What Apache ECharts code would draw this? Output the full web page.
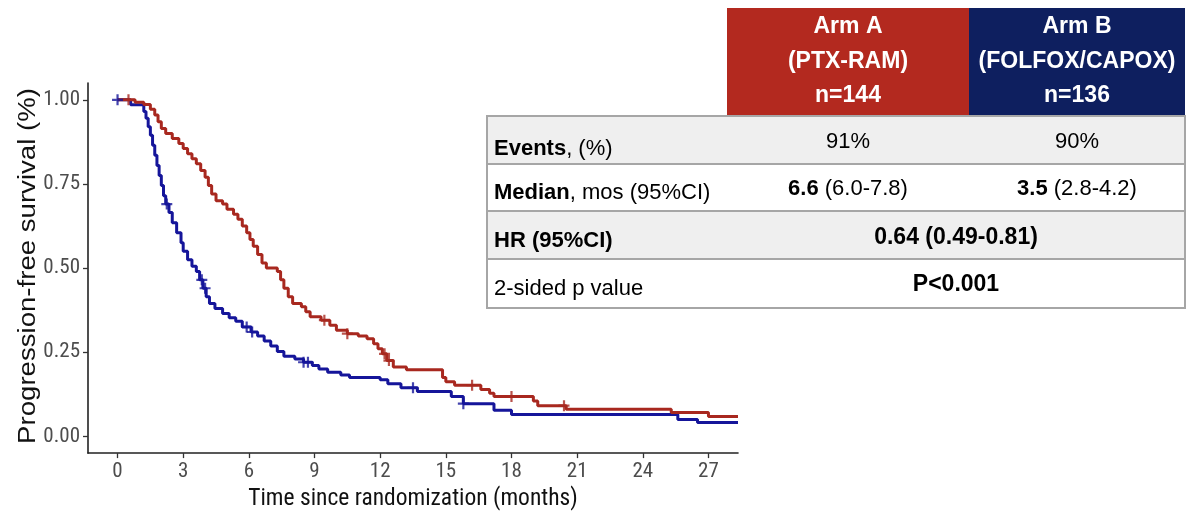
<!DOCTYPE html>
<html>
<head>
<meta charset="utf-8">
<script src="https://cdn.jsdelivr.net/npm/echarts@6/dist/echarts.min.js"></script>
<style>html,body{margin:0;padding:0;background:#fff;}#c{width:1188px;height:516px;}</style>
</head>
<body>
<div id="c"></div>
<script>
// ---------- DATA ----------
const xTicks = [0, 3, 6, 9, 12, 15, 18, 21, 24, 27];
const yTicks = [0, 0.25, 0.5, 0.75, 1.0];
const yTickLabels = ['0.00', '0.25', '0.50', '0.75', '1.00'];

// Arm A (PTX-RAM) Kaplan-Meier steps: [months, survival]
const armA = [
  [0,1.0],[0.8,0.993],[1.2,0.986],[1.5,0.972],[1.7,0.955],[1.85,0.935],[2.0,0.915],[2.2,0.9],
  [2.5,0.885],[2.8,0.87],[3.0,0.855],[3.2,0.84],[3.4,0.825],[3.6,0.81],[3.8,0.79],[4.0,0.77],
  [4.15,0.745],[4.3,0.72],[4.5,0.7],[4.8,0.69],[5.0,0.675],[5.3,0.66],[5.5,0.645],[5.7,0.625],
  [5.9,0.605],[6.05,0.585],[6.2,0.565],[6.4,0.54],[6.6,0.515],[6.8,0.5],[7.3,0.49],[7.45,0.465],
  [7.6,0.44],[7.8,0.415],[8.0,0.395],[8.4,0.385],[8.6,0.37],[8.8,0.355],[9.3,0.345],[9.7,0.33],
  [10.0,0.315],[10.5,0.305],[11.0,0.298],[11.4,0.29],[11.7,0.275],[11.9,0.26],[12.1,0.245],
  [12.3,0.225],[12.6,0.206],[13.2,0.198],[14.85,0.175],[15.0,0.162],[15.4,0.152],[16.6,0.139],
  [17.0,0.128],[17.2,0.118],[19.0,0.105],[19.2,0.091],[20.5,0.08],[25.3,0.071],[27.0,0.059],[28.35,0.059]
];
// Arm B (FOLFOX/CAPOX)
const armB = [
  [0,1.0],[0.6,0.985],[1.2,0.965],[1.3,0.945],[1.4,0.92],[1.5,0.895],[1.6,0.865],[1.7,0.835],
  [1.8,0.805],[1.9,0.775],[2.0,0.745],[2.1,0.715],[2.2,0.69],[2.35,0.665],[2.5,0.635],[2.7,0.605],
  [2.9,0.575],[3.0,0.55],[3.2,0.525],[3.4,0.505],[3.6,0.49],[3.75,0.465],[3.9,0.44],[4.05,0.415],
  [4.2,0.395],[4.45,0.38],[4.8,0.365],[5.1,0.352],[5.4,0.342],[5.7,0.325],[6.1,0.31],[6.4,0.298],
  [6.7,0.283],[7.0,0.268],[7.3,0.252],[7.6,0.238],[8.1,0.23],[8.5,0.22],[8.9,0.21],[9.2,0.2],
  [9.6,0.19],[10.2,0.182],[10.6,0.175],[12.0,0.168],[12.35,0.156],[12.95,0.144],[13.7,0.133],
  [15.25,0.118],[15.8,0.097],[17.2,0.077],[18.0,0.065],[25.6,0.05],[26.5,0.041],[28.35,0.041]
];
// censoring marks
const censorA = [[0.5,1.0],[9.45,0.345],[10.5,0.305],[12.2,0.245],[12.4,0.225],[16.2,0.152],[18.0,0.118],[20.4,0.091]];
const censorB = [[0,1.0],[2.25,0.69],[3.85,0.465],[4.0,0.44],[5.9,0.325],[6.15,0.31],[8.5,0.22],[8.7,0.22],[13.5,0.144],[15.8,0.097]];

// table text
const headerA = ['Arm A', '(PTX-RAM)', 'n=144'];
const headerB = ['Arm B', '(FOLFOX/CAPOX)', 'n=136'];
const rowLabels = ['{b|Events}, (%)', '{b|Median}, mos (95%CI)', '{b|HR (95%CI)}', '2-sided p value'];
const colA = ['91%', '{b|6.6} (6.0-7.8)'];
const colB = ['90%', '{b|3.5} (2.8-4.2)'];
const spanned = ['{b|0.64 (0.49-0.81)}', '{b|P<0.001}'];

const xTitle = 'Time since randomization (months)';
const yTitle = 'Progression-free survival (%)';

// ---------- STYLE ----------
const FONT = "'Liberation Sans', Arial, sans-serif";
const FONT_N = "'Liberation Sans Narrow', 'Arial Narrow', 'Roboto Condensed', 'Liberation Sans', Arial, sans-serif";
const RED = '#a8281f';
const BLUE = '#15159a';
const PLUS = 'path://M4,0H6V4H10V6H6V10H4V6H0V4H4Z';

const chart = echarts.init(document.getElementById('c'), null, {renderer: 'canvas'});

// table geometry
const tX0 = 487, tX1 = 1185, cA0 = 727, cA1 = 969;
const hTop = 8, hBot = 116;
const rowY = [116, 164, 211, 259, 308];
const cAx = (cA0 + cA1) / 2, cBx = (cA1 + tX1) / 2, cSx = (cA0 + tX1) / 2;
const TFS = 22;
const rich = {b: {fontWeight: 'bold', fontFamily: FONT, fontSize: TFS, fill: '#000'}};
const labelY = [149, 193, 241, 289];
const valueY = [142, 189, 238, 285];

const graphics = [];
graphics.push({type: 'rect', shape: {x: cA0, y: hTop, width: cA1 - cA0, height: hBot - hTop}, style: {fill: '#b3291f'}});
graphics.push({type: 'rect', shape: {x: cA1, y: hTop, width: tX1 - cA1, height: hBot - hTop}, style: {fill: '#0e1f5f'}});
const hLineY = [27, 62, 96];
headerA.forEach((t, i) => graphics.push({type: 'text', x: cAx, y: hLineY[i], style: {text: t, fill: '#fff', font: 'bold 23px ' + FONT, textAlign: 'center', textVerticalAlign: 'middle'}}));
headerB.forEach((t, i) => graphics.push({type: 'text', x: cBx, y: hLineY[i], style: {text: t, fill: '#fff', font: 'bold 23px ' + FONT, textAlign: 'center', textVerticalAlign: 'middle'}}));
const rowFill = ['#efefef', '#ffffff', '#efefef', '#ffffff'];
for (let i = 0; i < 4; i++) {
  graphics.push({type: 'rect', shape: {x: tX0, y: rowY[i], width: tX1 - tX0, height: rowY[i + 1] - rowY[i]},
    style: {fill: rowFill[i], stroke: '#a6a6a6', lineWidth: 2}});
}
for (let i = 0; i < 4; i++) {
  graphics.push({type: 'text', x: 494, y: labelY[i], style: {text: rowLabels[i], fill: '#000', fontFamily: FONT, fontSize: TFS, textAlign: 'left', textVerticalAlign: 'middle', rich: rich}});
  if (i < 2) {
    graphics.push({type: 'text', x: cAx, y: valueY[i], style: {text: colA[i], fill: '#000', fontFamily: FONT, fontSize: TFS, textAlign: 'center', textVerticalAlign: 'middle', rich: rich}});
    graphics.push({type: 'text', x: cBx, y: valueY[i], style: {text: colB[i], fill: '#000', fontFamily: FONT, fontSize: TFS, textAlign: 'center', textVerticalAlign: 'middle', rich: rich}});
  } else {
    graphics.push({type: 'text', x: cSx, y: valueY[i], style: {text: spanned[i - 2], fill: '#000', fontFamily: FONT, fontSize: TFS, textAlign: 'center', textVerticalAlign: 'middle', rich: {b: {fontWeight: 'bold', fontFamily: FONT, fontSize: 23, fill: '#000'}}}});
  }
}
// y-axis title (stretched along its length as in the reference)
graphics.push({type: 'text', x: 29, y: 266, rotation: Math.PI / 2, scaleX: 1.2, scaleY: 1,
  style: {text: yTitle, fill: '#111', fontFamily: FONT, fontSize: 23, textAlign: 'center', textVerticalAlign: 'middle'}});

const option = {
  backgroundColor: '#ffffff',
  animation: false,
  grid: {left: 88, right: 450, top: 83, bottom: 60, containLabel: false},
  xAxis: {
    type: 'value', min: -1.35, max: 28.35,
    name: xTitle, nameLocation: 'middle', nameGap: 30,
    nameTextStyle: {fontFamily: FONT_N, fontSize: 23.5, color: '#111'},
    axisLine: {show: true, onZero: false, lineStyle: {color: '#222', width: 1.6}},
    axisTick: {show: true, length: 5, lineStyle: {color: '#333', width: 1.3}, customValues: xTicks},
    axisLabel: {customValues: xTicks, formatter: v => String(v), fontFamily: FONT_N, fontSize: 21, color: '#4d4d4d', margin: 8},
    splitLine: {show: false}
  },
  yAxis: {
    type: 'value', min: -0.05, max: 1.05,
    axisLine: {show: true, onZero: false, lineStyle: {color: '#222', width: 1.6}},
    axisTick: {show: true, length: 5, lineStyle: {color: '#333', width: 1.3}, customValues: yTicks},
    axisLabel: {customValues: yTicks, formatter: v => yTickLabels[yTicks.indexOf(Math.round(v * 100) / 100)] || '', fontFamily: FONT_N, fontSize: 21, color: '#4d4d4d', margin: 8},
    splitLine: {show: false}
  },
  series: [
    {type: 'line', name: 'Arm B', data: armB, step: 'end', symbol: 'none', lineStyle: {color: BLUE, width: 3}, z: 2},
    {type: 'line', name: 'Arm A', data: armA, step: 'end', symbol: 'none', lineStyle: {color: RED, width: 3}, z: 3},
    {type: 'scatter', data: censorB, symbol: PLUS, symbolSize: 11, itemStyle: {color: BLUE}, z: 4},
    {type: 'scatter', data: censorA, symbol: PLUS, symbolSize: 11, itemStyle: {color: RED}, z: 5}
  ],
  graphic: graphics
};
chart.setOption(option);
</script>
</body>
</html>
